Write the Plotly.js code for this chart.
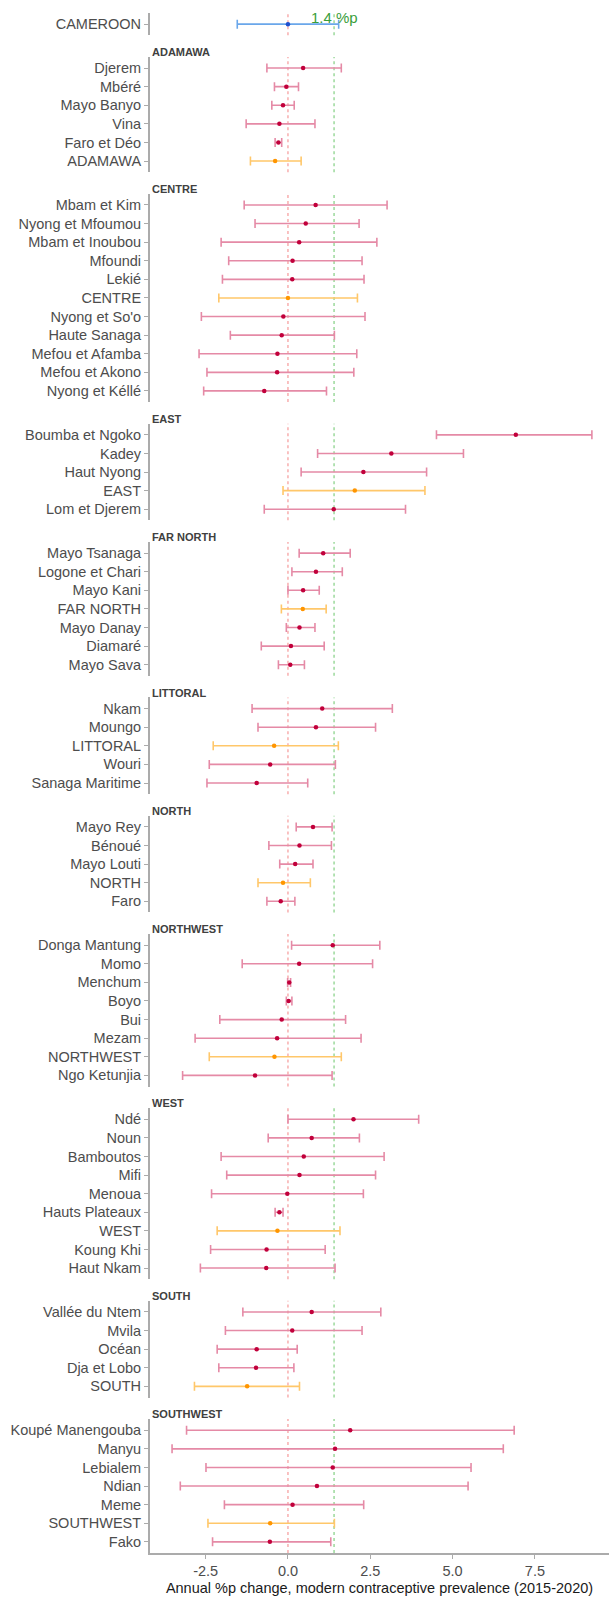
<!DOCTYPE html>
<html>
<head>
<meta charset="utf-8">
<script src="https://cdn.plot.ly/plotly-3.0.1.min.js"></script>
<style>
  html, body { margin: 0; padding: 0; background: #ffffff; }
  #chart { width: 609px; height: 1597px; }
</style>
</head>
<body>
<div id="chart"></div>
<script>
// Annual percentage-point change in modern contraceptive prevalence, 2015-2020,
// with uncertainty intervals, for Cameroon, its regions and its districts.

const nationalRows = ['CAMEROON'];
const nationalEst  = [0.0];
const nationalLow  = [-1.54];
const nationalHigh = [1.54];

// reference change shown by the green dotted line
const referenceChange = 1.4;
const referenceLabel = '1.4 %p';

const regionNames = ['ADAMAWA', 'CENTRE', 'EAST', 'FAR NORTH', 'LITTORAL',
                     'NORTH', 'NORTHWEST', 'WEST', 'SOUTH', 'SOUTHWEST'];

const adamawaRows = ['Djerem', 'Mbéré', 'Mayo Banyo', 'Vina', 'Faro et Déo', 'ADAMAWA'];
const adamawaEst  = [0.46, -0.05, -0.15, -0.26, -0.29, -0.39];
const adamawaLow  = [-0.64, -0.41, -0.49, -1.27, -0.39, -1.14];
const adamawaHigh = [1.62, 0.32, 0.19, 0.82, -0.19, 0.40];

const centreRows = ['Mbam et Kim', 'Nyong et Mfoumou', 'Mbam et Inoubou', 'Mfoundi', 'Lekié', 'CENTRE',
                    "Nyong et So'o", 'Haute Sanaga', 'Mefou et Afamba', 'Mefou et Akono', 'Nyong et Kéllé'];
const centreEst  = [0.84, 0.54, 0.34, 0.14, 0.13, 0.0, -0.14, -0.19, -0.32, -0.33, -0.72];
const centreLow  = [-1.33, -1.00, -2.03, -1.80, -1.99, -2.10, -2.63, -1.75, -2.70, -2.46, -2.56];
const centreHigh = [3.01, 2.16, 2.70, 2.25, 2.31, 2.11, 2.34, 1.41, 2.09, 2.00, 1.17];

const eastRows = ['Boumba et Ngoko', 'Kadey', 'Haut Nyong', 'EAST', 'Lom et Djerem'];
const eastEst  = [6.92, 3.14, 2.29, 2.03, 1.39];
const eastLow  = [4.51, 0.90, 0.40, -0.15, -0.72];
const eastHigh = [9.23, 5.33, 4.21, 4.16, 3.57];

const farNorthRows = ['Mayo Tsanaga', 'Logone et Chari', 'Mayo Kani', 'FAR NORTH', 'Mayo Danay', 'Diamaré', 'Mayo Sava'];
const farNorthEst  = [1.07, 0.85, 0.46, 0.45, 0.35, 0.09, 0.07];
const farNorthLow  = [0.34, 0.12, 0.0, -0.20, -0.05, -0.81, -0.29];
const farNorthHigh = [1.89, 1.65, 0.95, 1.16, 0.82, 1.10, 0.50];

const littoralRows = ['Nkam', 'Moungo', 'LITTORAL', 'Wouri', 'Sanaga Maritime'];
const littoralEst  = [1.04, 0.85, -0.42, -0.54, -0.95];
const littoralLow  = [-1.09, -0.91, -2.27, -2.39, -2.46];
const littoralHigh = [3.17, 2.66, 1.53, 1.44, 0.60];

const northRows = ['Mayo Rey', 'Bénoué', 'Mayo Louti', 'NORTH', 'Faro'];
const northEst  = [0.76, 0.35, 0.22, -0.15, -0.22];
const northLow  = [0.25, -0.58, -0.25, -0.91, -0.64];
const northHigh = [1.34, 1.32, 0.76, 0.68, 0.21];

const northwestRows = ['Donga Mantung', 'Momo', 'Menchum', 'Boyo', 'Bui', 'Mezam', 'NORTHWEST', 'Ngo Ketunjia'];
const northwestEst  = [1.36, 0.34, 0.04, 0.02, -0.19, -0.33, -0.41, -1.00];
const northwestLow  = [0.11, -1.39, -0.01, -0.05, -2.07, -2.82, -2.39, -3.20];
const northwestHigh = [2.79, 2.57, 0.08, 0.12, 1.75, 2.22, 1.62, 1.34];

const westRows = ['Ndé', 'Noun', 'Bamboutos', 'Mifi', 'Menoua', 'Hauts Plateaux', 'WEST', 'Koung Khi', 'Haut Nkam'];
const westEst  = [1.99, 0.72, 0.48, 0.35, -0.02, -0.26, -0.32, -0.65, -0.66];
const westLow  = [0.0, -0.60, -2.03, -1.86, -2.32, -0.39, -2.15, -2.35, -2.66];
const westHigh = [3.97, 2.17, 2.92, 2.66, 2.29, -0.15, 1.58, 1.13, 1.43];

const southRows = ['Vallée du Ntem', 'Mvila', 'Océan', 'Dja et Lobo', 'SOUTH'];
const southEst  = [0.72, 0.13, -0.95, -0.97, -1.24];
const southLow  = [-1.37, -1.90, -2.15, -2.10, -2.84];
const southHigh = [2.82, 2.25, 0.28, 0.18, 0.35];

const southwestRows = ['Koupé Manengouba', 'Manyu', 'Lebialem', 'Ndian', 'Meme', 'SOUTHWEST', 'Fako'];
const southwestEst  = [1.89, 1.43, 1.36, 0.88, 0.14, -0.54, -0.55];
const southwestLow  = [-3.08, -3.52, -2.49, -3.27, -1.93, -2.43, -2.29];
const southwestHigh = [6.87, 6.54, 5.56, 5.47, 2.30, 1.41, 1.30];

const xTickVals = [-2.5, 0, 2.5, 5, 7.5];
const xTickText = ['-2.5', '0.0', '2.5', '5.0', '7.5'];
const xTitle = 'Annual %p change, modern contraceptive prevalence (2015-2020)';

// panel list, top to bottom
const panels = [
  { header: null,          rows: nationalRows,  est: nationalEst,  low: nationalLow,  high: nationalHigh },
  { header: regionNames[0], rows: adamawaRows,   est: adamawaEst,   low: adamawaLow,   high: adamawaHigh },
  { header: regionNames[1], rows: centreRows,    est: centreEst,    low: centreLow,    high: centreHigh },
  { header: regionNames[2], rows: eastRows,      est: eastEst,      low: eastLow,      high: eastHigh },
  { header: regionNames[3], rows: farNorthRows,  est: farNorthEst,  low: farNorthLow,  high: farNorthHigh },
  { header: regionNames[4], rows: littoralRows,  est: littoralEst,  low: littoralLow,  high: littoralHigh },
  { header: regionNames[5], rows: northRows,     est: northEst,     low: northLow,     high: northHigh },
  { header: regionNames[6], rows: northwestRows, est: northwestEst, low: northwestLow, high: northwestHigh },
  { header: regionNames[7], rows: westRows,      est: westEst,      low: westLow,      high: westHigh },
  { header: regionNames[8], rows: southRows,     est: southEst,     low: southLow,     high: southHigh },
  { header: regionNames[9], rows: southwestRows, est: southwestEst, low: southwestLow, high: southwestHigh }
];

// ---- geometry ----
const W = 609, H = 1597;
const M = { l: 150, r: 0, t: 13, b: 44 };
const plotH = H - M.t - M.b;
const panelGap = 21.6;           // room for the region strip between panels
const pad = 0.6;                 // category padding above/below rows
const totalUnits = panels.reduce((s, p) => s + p.rows.length - 1 + 2 * pad, 0);
const pitch = (plotH - panelGap * (panels.length - 1)) / totalUnits;

const FONT = '"Liberation Sans", Arial, Helvetica, sans-serif';
const AXIS_GREY = '#ababab';
const LABEL_GREY = '#4d4d4d';

const styles = {
  district: { bar: '#e58aa6', dot: '#c1003b' },
  region:   { bar: '#ffc76a', dot: '#ff9500' },
  national: { bar: '#6aa7ea', dot: '#1d4fcf' }
};

const traces = [];
const shapes = [];
const annotations = [];
const layout = {
  width: W, height: H,
  margin: M,
  paper_bgcolor: '#ffffff',
  plot_bgcolor: '#ffffff',
  showlegend: false,
  font: { family: FONT, color: LABEL_GREY },
  hovermode: false
};

let topPx = 0;
panels.forEach((p, i) => {
  const n = p.rows.length;
  const hPx = (n - 1 + 2 * pad) * pitch;
  const yName = i === 0 ? 'y' : 'y' + (i + 1);
  const axKey = i === 0 ? 'yaxis' : 'yaxis' + (i + 1);
  const dom = [1 - (topPx + hPx) / plotH, 1 - topPx / plotH];

  layout[axKey] = {
    domain: dom,
    anchor: 'x',
    type: 'category',
    categoryorder: 'array',
    categoryarray: p.rows,
    range: [n - 1 + pad, -pad],
    showline: true, linecolor: AXIS_GREY, linewidth: 2,
    ticks: 'outside', ticklen: 4, tickwidth: 1, tickcolor: AXIS_GREY,
    tickfont: { family: FONT, size: 14.5, color: LABEL_GREY },
    showgrid: false, zeroline: false, fixedrange: true
  };

  // split rows into district / region / national groups
  const groups = { district: [], region: [], national: [] };
  p.rows.forEach((r, k) => {
    let g = 'district';
    if (p.header === null) g = 'national';
    else if (r === p.header) g = 'region';
    groups[g].push(k);
  });

  Object.keys(groups).forEach(g => {
    const idx = groups[g];
    if (!idx.length) return;
    traces.push({
      type: 'scatter', mode: 'markers',
      xaxis: 'x', yaxis: yName,
      y: idx.map(k => p.rows[k]),
      x: idx.map(k => p.est[k]),
      error_x: {
        type: 'data', symmetric: false,
        array: idx.map(k => p.high[k] - p.est[k]),
        arrayminus: idx.map(k => p.est[k] - p.low[k]),
        color: styles[g].bar, thickness: 1.6, width: 4.5
      },
      marker: { color: styles[g].dot, size: 4.5 },
      hoverinfo: 'skip'
    });
  });

  // zero line and reference line in every panel
  shapes.push({
    type: 'line', layer: 'below', xref: 'x', yref: yName + ' domain',
    x0: 0, x1: 0, y0: 0, y1: 1,
    line: { color: '#f7a8a8', width: 1.4, dash: 'dot' }
  });
  shapes.push({
    type: 'line', layer: 'below', xref: 'x', yref: yName + ' domain',
    x0: referenceChange, x1: referenceChange, y0: 0, y1: 1,
    line: { color: '#94d694', width: 1.4, dash: 'dot' }
  });

  if (p.header) {
    annotations.push({
      xref: 'paper', yref: 'paper',
      x: 0, y: 1 - (topPx - 4.8) / plotH,
      xanchor: 'left', yanchor: 'middle',
      text: '<b>' + p.header + '</b>',
      showarrow: false,
      font: { family: FONT, size: 11, color: '#404040' }
    });
  }

  topPx += hPx + panelGap;
});

annotations.push({
  xref: 'x', yref: 'paper',
  x: referenceChange, y: 1 - 4 / plotH,
  xanchor: 'center', yanchor: 'middle',
  text: referenceLabel, showarrow: false,
  font: { family: FONT, size: 15, color: '#3a9e3a' }
});

layout.xaxis = {
  domain: [0, 1],
  anchor: 'y' + panels.length,
  range: [-4.19, 9.75],
  tickmode: 'array', tickvals: xTickVals, ticktext: xTickText,
  showline: true, linecolor: AXIS_GREY, linewidth: 2,
  ticks: 'outside', ticklen: 4, tickwidth: 1, tickcolor: AXIS_GREY,
  tickfont: { family: FONT, size: 14.5, color: LABEL_GREY },
  showgrid: false, zeroline: false, fixedrange: true,
  title: { text: xTitle, font: { family: FONT, size: 14.5, color: '#1a1a1a' }, standoff: 4 }
};
layout.shapes = shapes;
layout.annotations = annotations;

Plotly.newPlot('chart', traces, layout, { displayModeBar: false, staticPlot: true });
</script>
</body>
</html>
